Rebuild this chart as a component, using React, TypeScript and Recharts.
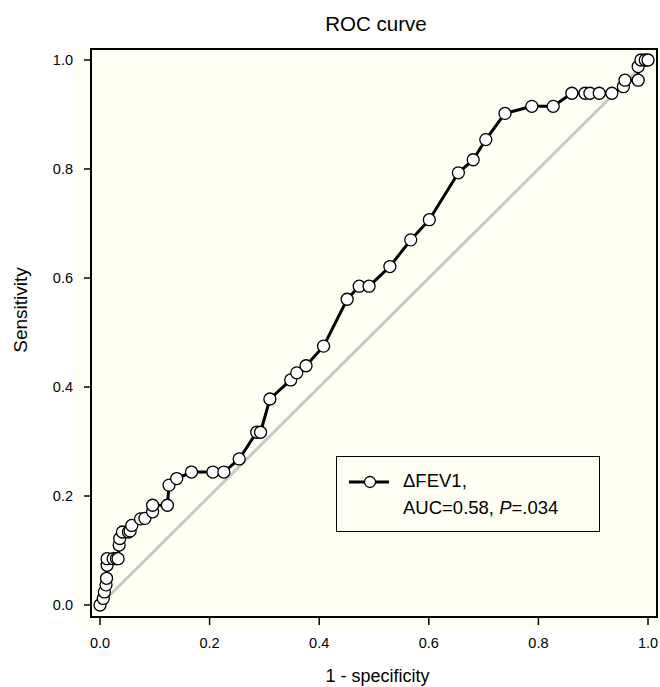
import React from 'react';
import { LineChart, Line, XAxis, YAxis, ReferenceLine, ReferenceArea, Legend } from 'recharts';

const fpr = [
  0.0, 0.006, 0.008, 0.011, 0.012, 0.013, 0.013, 0.024, 0.03, 0.033,
  0.035, 0.036, 0.041, 0.052, 0.055, 0.058, 0.074, 0.082, 0.096, 0.096,
  0.123, 0.126, 0.14, 0.167, 0.206, 0.226, 0.254, 0.286, 0.293, 0.31,
  0.348, 0.359, 0.376, 0.408, 0.451, 0.473, 0.491, 0.529, 0.567, 0.601,
  0.654, 0.681, 0.704, 0.739, 0.788, 0.827, 0.861, 0.885, 0.894, 0.911,
  0.934, 0.955, 0.958, 0.982, 0.982, 0.987, 0.995, 1.0,
];
const tpr = [
  0.0, 0.012, 0.024, 0.037, 0.049, 0.073, 0.085, 0.085, 0.085, 0.085,
  0.11, 0.122, 0.134, 0.134, 0.136, 0.146, 0.158, 0.159, 0.171, 0.183,
  0.183, 0.22, 0.232, 0.244, 0.244, 0.244, 0.268, 0.317, 0.317, 0.378,
  0.413, 0.426, 0.439, 0.475, 0.561, 0.585, 0.585, 0.621, 0.67, 0.707,
  0.793, 0.817, 0.854, 0.902, 0.915, 0.915, 0.939, 0.939, 0.939, 0.939,
  0.939, 0.951, 0.963, 0.963, 0.988, 1.0, 1.0, 1.0,
];
const xTicks = [0, 0.2, 0.4, 0.6, 0.8, 1.0];
const yTicks = [0, 0.2, 0.4, 0.6, 0.8, 1.0];
const chanceLine = [
  { x: 0, y: 0 },
  { x: 1, y: 1 },
];
const titleText = 'ROC curve';
const xLabel = '1 - specificity';
const yLabel = 'Sensitivity';
const seriesName = 'ΔFEV1,';
const aucText = 'AUC=0.58, ';
const pText = '=.034';

const data = fpr.map((x, i) => ({ x, y: tpr[i] }));

const X_DOMAIN: [number, number] = [-0.0164, 1.0164];
const Y_DOMAIN: [number, number] = [-0.022, 1.0202];
const CREAM = '#FFFFF4';
const FONT = '"Liberation Sans", Arial, Helvetica, sans-serif';

const LegendBox = () => (
  <div
    style={{
      position: 'relative',
      width: 264,
      height: 76,
      border: '1.5px solid #000',
      background: CREAM,
      boxSizing: 'border-box',
      fontFamily: FONT,
      fontSize: 18.5,
      color: '#000',
    }}
  >
    <svg width={60} height={20} style={{ position: 'absolute', left: 11, top: 15 }}>
      <line x1={1} x2={41} y1={10} y2={10} stroke="#000" strokeWidth={3} />
      <circle cx={22} cy={10} r={5.5} fill="#fff" stroke="#000" strokeWidth={1.3} />
    </svg>
    <div
      style={{
        position: 'absolute',
        left: 66,
        top: 10,
        lineHeight: '27px',
        whiteSpace: 'nowrap',
        textAlign: 'left',
      }}
    >
      {seriesName}
      <br />
      {aucText}
      <i>P</i>
      {pText}
    </div>
  </div>
);

export default function App() {
  const fmt = (v: number) => v.toFixed(1);
  return (
    <div
      style={{
        position: 'absolute',
        left: 0,
        top: 0,
        width: 660,
        height: 687,
        background: '#fff',
        fontFamily: FONT,
        overflow: 'hidden',
      }}
    >
      <div style={{ position: 'absolute', left: 75, top: 46, width: 585, height: 583, background: CREAM }} />
      <div style={{ position: 'absolute', left: 0, top: 0 }}>
        <LineChart width={660} height={687} data={data} margin={{ top: 49, right: 3, bottom: 30, left: 0 }}>
          <XAxis
            type="number"
            dataKey="x"
            domain={X_DOMAIN}
            ticks={xTicks}
            allowDataOverflow
            interval={0}
            axisLine={false}
            tickLine={{ stroke: '#000', strokeWidth: 1.5 }}
            tickSize={8}
            tickMargin={13}
            height={40}
            tick={{ fill: '#000', fontSize: 14.5, fontFamily: FONT }}
            tickFormatter={fmt}
          />
          <YAxis
            type="number"
            dataKey="y"
            domain={Y_DOMAIN}
            ticks={yTicks}
            allowDataOverflow
            interval={0}
            axisLine={false}
            tickLine={{ stroke: '#000', strokeWidth: 1.5 }}
            tickSize={7}
            tickMargin={11}
            width={91}
            tick={{ fill: '#000', fontSize: 14.5, fontFamily: FONT }}
            tickFormatter={fmt}
          />
          <ReferenceArea
            x1={X_DOMAIN[0]}
            x2={X_DOMAIN[1]}
            y1={Y_DOMAIN[0]}
            y2={Y_DOMAIN[1]}
            fill={CREAM}
            fillOpacity={0}
            stroke="#000"
            strokeWidth={2}
            strokeOpacity={1}
            ifOverflow="visible"
          />
          <ReferenceLine segment={chanceLine} stroke="#c8c8c8" strokeWidth={3} ifOverflow="visible" />
          <Line
            type="linear"
            dataKey="y"
            stroke="#000"
            strokeWidth={3}
            dot={{ r: 6, fill: '#fff', stroke: '#000', strokeWidth: 1.3 }}
            activeDot={false}
            isAnimationActive={false}
          />
          <Legend
            layout="vertical"
            align="center"
            verticalAlign="middle"
            wrapperStyle={{ left: 336, top: 456, width: 264, height: 76 }}
            content={() => <LegendBox />}
          />
        </LineChart>
      </div>
      <svg
        width={660}
        height={687}
        style={{ position: 'absolute', left: 0, top: 0, pointerEvents: 'none' }}
      >
        <text x={376} y={31} textAnchor="middle" fontSize={20.5} fontFamily={FONT} fill="#000">
          {titleText}
        </text>
        <text x={377.5} y={682} textAnchor="middle" fontSize={18} fontFamily={FONT} fill="#000">
          {xLabel}
        </text>
        <text
          transform="translate(27,310) rotate(-90)"
          textAnchor="middle"
          fontSize={19}
          fontFamily={FONT}
          fill="#000"
        >
          {yLabel}
        </text>
      </svg>
    </div>
  );
}
